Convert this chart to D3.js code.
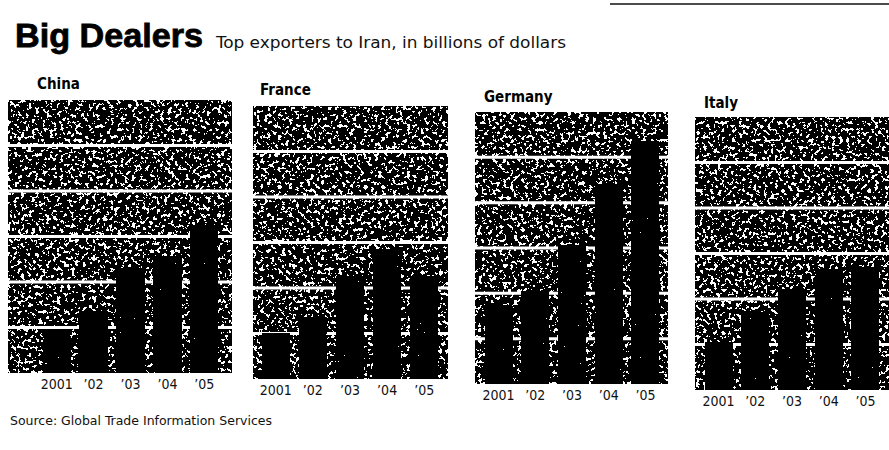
<!DOCTYPE html>
<html>
<head>
<meta charset="utf-8">
<script src="https://cdn.jsdelivr.net/npm/d3@7"></script>
<style>
  html, body { margin: 0; padding: 0; background: #fff; }
  svg { display: block; }
</style>
</head>
<body>
<svg id="chart" width="889" height="450"></svg>
<script>
// ---- data ----
const countries = ["China", "France", "Germany", "Italy"];
const years = ["2001", "’02", "’03", "’04", "’05"];
const chinaValues   = [0.95, 1.35, 2.3, 2.55, 3.25];
const franceValues  = [1.0, 1.35, 2.25, 2.85, 2.25];
const germanyValues = [1.7, 2.05, 3.05, 4.4, 5.35];
const italyValues   = [1.05, 1.7, 2.2, 2.65, 2.7];
const gridValues = [1, 2, 3, 4, 5];
const yMax = 6;
const seriesValues = [chinaValues, franceValues, germanyValues, italyValues];

// ---- layout (positions only) ----
const layout = [
  { x0: 8,   x1: 232, top: 100, bottom: 373, b0: 43,  b1: 218, tx: 37,  ty: 89 },
  { x0: 253, x1: 448, top: 106, bottom: 379, b0: 262, b1: 438, tx: 260, ty: 95 },
  { x0: 475, x1: 668, top: 112, bottom: 384, b0: 485, b1: 659, tx: 484, ty: 102 },
  { x0: 695, x1: 889, top: 117, bottom: 390, b0: 705, b1: 879, tx: 704, ty: 108 }
];

const svg = d3.select("#chart");
const defs = svg.append("defs");

function noiseFilter(id, seed, freq, table) {
  const f = defs.append("filter").attr("id", id)
    .attr("x", 0).attr("y", 0).attr("width", 1).attr("height", 1)
    .attr("color-interpolation-filters", "sRGB");
  f.append("feTurbulence").attr("type", "fractalNoise")
    .attr("baseFrequency", freq).attr("numOctaves", 3).attr("seed", seed).attr("result", "t");
  f.append("feColorMatrix").attr("in", "t").attr("type", "matrix")
    .attr("values", "1 0 0 0 0  1 0 0 0 0  1 0 0 0 0  0 0 0 0 1").attr("result", "g");
  const ct = f.append("feComponentTransfer").attr("in", "g");
  ["feFuncR", "feFuncG", "feFuncB"].forEach(fn =>
    ct.append(fn).attr("type", "discrete").attr("tableValues", table));
}
noiseFilter("bgNoise", 7, 0.28, "0 0 0 0 0 0 0 0 0 0 0 0 1 1 1 1 1 1 1 1");
noiseFilter("barNoise", 11, 0.35, "0 0 0 0 0 0 0 0 0 0 0 0 0 0 0 0 0 1 1 1");

const condensed = "'DejaVu Sans Condensed', 'Liberation Sans Narrow', 'DejaVu Sans', sans-serif";

// title
svg.append("text")
  .attr("x", 15).attr("y", 47)
  .attr("font-family", "'Liberation Sans', Arial, sans-serif")
  .attr("font-weight", 900).attr("font-size", 33)
  .attr("stroke", "#000").attr("stroke-width", 0.8)
  .attr("fill", "#000")
  .attr("textLength", 188).attr("lengthAdjust", "spacingAndGlyphs")
  .text("Big Dealers");

svg.append("text")
  .attr("x", 216).attr("y", 48)
  .attr("font-family", condensed)
  .attr("font-size", 16)
  .attr("fill", "#111")
  .attr("textLength", 350).attr("lengthAdjust", "spacingAndGlyphs")
  .text("Top exporters to Iran, in billions of dollars");

// top-right rule
svg.append("line")
  .attr("x1", 610).attr("x2", 889).attr("y1", 4).attr("y2", 4)
  .attr("stroke", "#111").attr("stroke-width", 1.5);

countries.forEach((name, i) => {
  const L = layout[i];
  const values = seriesValues[i];
  const g = svg.append("g");

  const y = d3.scaleLinear().domain([0, yMax]).range([L.bottom, L.top]);
  const x = d3.scaleBand().domain(years).range([L.b0, L.b1])
    .paddingInner(0.26).paddingOuter(0);

  // panel title
  g.append("text")
    .attr("x", L.tx).attr("y", L.ty)
    .attr("font-family", condensed)
    .attr("font-weight", "bold").attr("font-size", 15)
    .attr("fill", "#000")
    .text(name);

  // textured background
  g.append("rect")
    .attr("x", L.x0).attr("y", y(yMax))
    .attr("width", L.x1 - L.x0).attr("height", y(0) - y(yMax))
    .attr("fill", "#777")
    .attr("filter", "url(#bgNoise)");

  // gridlines
  g.selectAll("line.grid").data(gridValues).join("line")
    .attr("class", "grid")
    .attr("x1", L.x0).attr("x2", L.x1)
    .attr("y1", d => y(d)).attr("y2", d => y(d))
    .attr("stroke", "#fff").attr("stroke-width", 3);

  // bars
  g.selectAll("rect.bar").data(values).join("rect")
    .attr("class", "bar")
    .attr("x", (d, j) => x(years[j]))
    .attr("width", x.bandwidth())
    .attr("y", d => y(d))
    .attr("height", d => y(0) - y(d))
    .attr("fill", "#000")
    .attr("filter", "url(#barNoise)");

  // x axis labels
  const axis = d3.axisBottom(x).tickSize(0).tickPadding(6);
  const ag = g.append("g")
    .attr("transform", `translate(0,${L.bottom})`)
    .call(axis);
  ag.select(".domain").remove();
  ag.selectAll("text")
    .attr("font-family", condensed)
    .attr("font-size", 14)
    .attr("fill", "#111");
});

svg.append("text")
  .attr("x", 10).attr("y", 425)
  .attr("font-family", condensed)
  .attr("font-size", 12)
  .attr("fill", "#111")
  .attr("textLength", 262).attr("lengthAdjust", "spacingAndGlyphs")
  .text("Source: Global Trade Information Services");
</script>
</body>
</html>
